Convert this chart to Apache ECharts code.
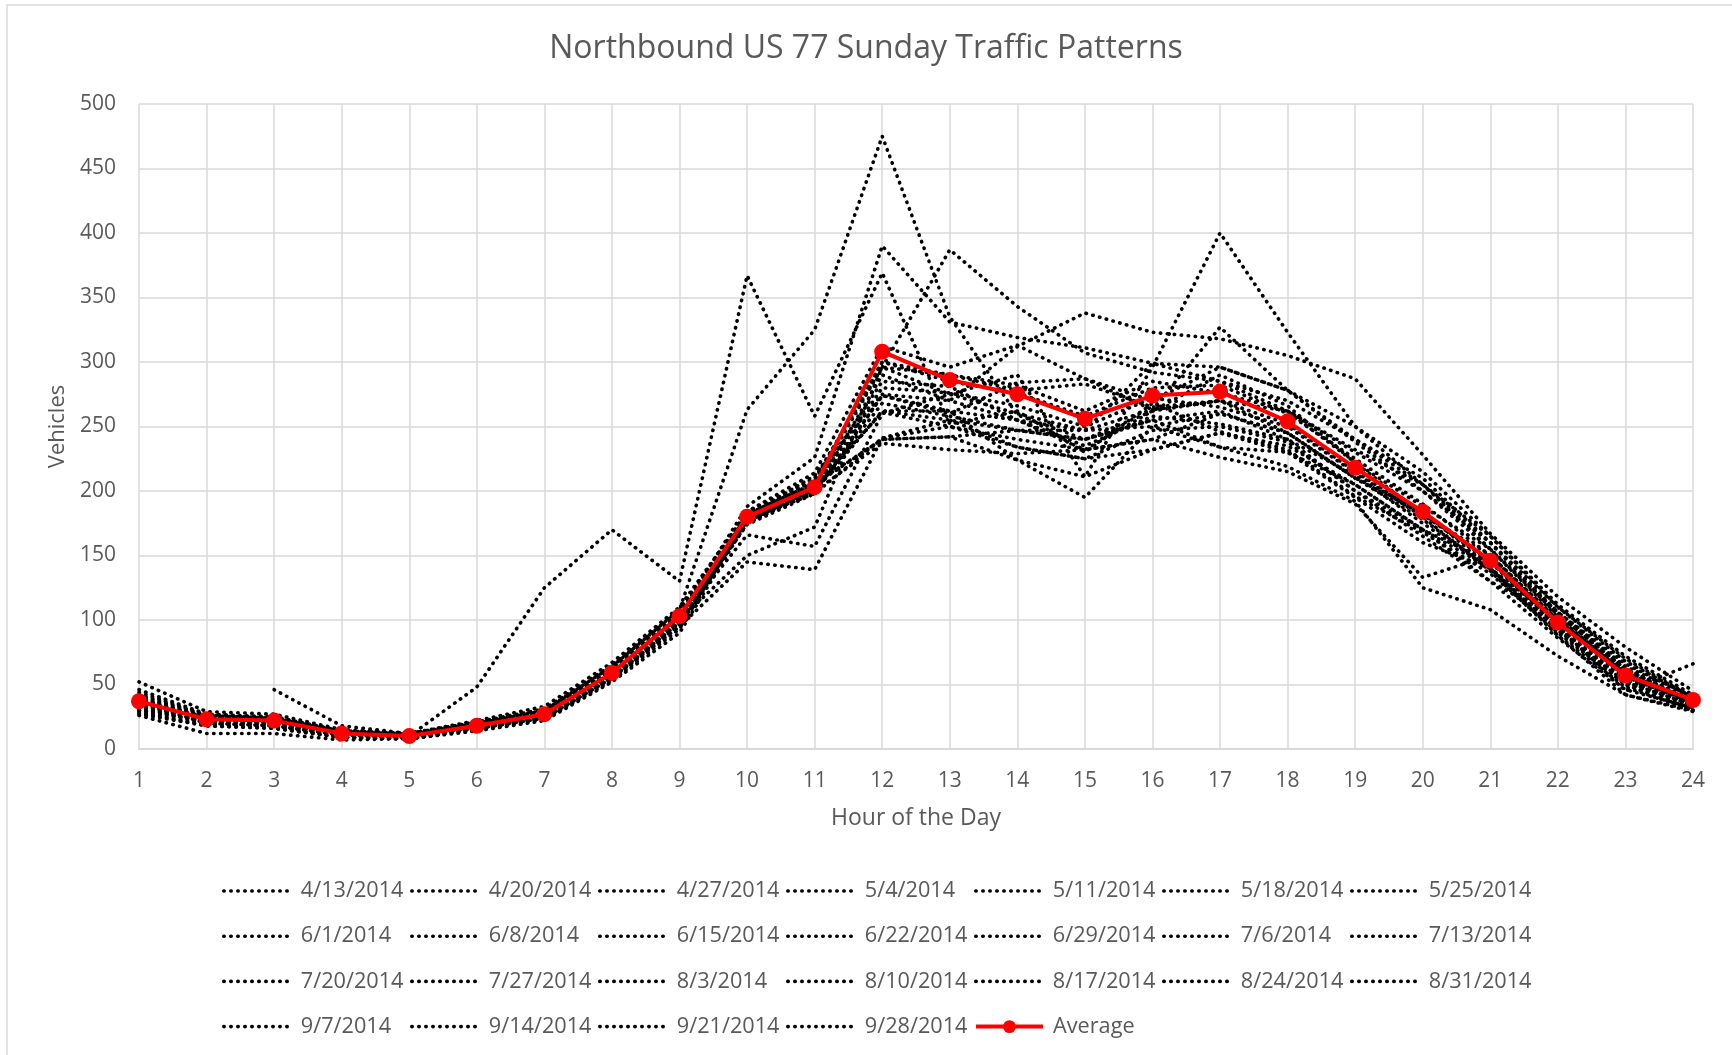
<!DOCTYPE html>
<html>
<head>
<meta charset="utf-8">
<title>Northbound US 77 Sunday Traffic Patterns</title>
<script src="https://cdn.jsdelivr.net/npm/echarts@6/dist/echarts.min.js"></script>
<style>
  html, body { margin: 0; padding: 0; background: #fff; }
  #chart { width: 1732px; height: 1055px; }
</style>
</head>
<body>
<div id="chart"></div>
<script>
// Hour of the day (x axis categories)
const hours = ['1','2','3','4','5','6','7','8','9','10','11','12','13','14','15','16','17','18','19','20','21','22','23','24'];

// Y axis: vehicles per hour
const yMin = 0, yMax = 500, yStep = 50;

// Hourly northbound counts for each Sunday
const d0413 = [null,null,46,18,12,16,24,55,98,175,200,262,255,247,240,255,262,240,200,170,140,92,52,34];
const d0420 = [34,22,20,12,10,48,125,170,130,367,258,369,252,262,230,268,246,232,196,168,136,90,50,30];
const d0427 = [30,26,24,14,11,20,30,64,108,263,325,475,335,259,240,262,290,266,222,182,150,100,60,36];
const d0504 = [40,24,22,13,10,19,28,62,104,188,226,390,331,319,311,299,296,278,240,210,160,110,70,40];
const d0511 = [36,20,18,11,9,18,27,58,100,150,172,296,387,343,307,292,285,262,232,205,155,106,66,40];
const d0518 = [38,24,23,12,11,20,29,60,104,180,212,275,270,312,338,323,318,305,287,228,167,118,79,45];
const d0525 = [28,18,16,9,8,17,26,57,102,175,200,262,262,224,195,250,234,219,192,125,108,72,42,30];
const d0601 = [52,29,27,15,12,22,33,67,110,183,208,300,290,278,283,265,270,262,230,200,160,104,62,38];
const d0608 = [35,23,21,12,10,18,27,58,100,166,157,260,275,290,211,296,400,323,250,215,165,110,68,40];
const d0615 = [30,22,20,11,9,17,25,55,95,145,139,241,255,234,225,232,245,235,205,170,130,100,60,35];
const d0622 = [42,26,24,13,11,19,28,61,104,178,205,240,242,247,247,263,327,278,238,200,155,104,62,36];
const d0629 = [26,12,12,7,8,14,22,52,90,176,200,237,232,229,232,240,226,215,190,133,150,98,56,33];
const d0706 = [38,25,22,12,10,19,27,60,102,176,200,274,262,255,247,250,260,245,210,182,145,96,55,36];
const d0713 = [33,21,18,10,9,16,24,54,96,178,198,241,250,234,225,247,250,238,200,165,130,86,46,32];
const d0720 = [46,27,25,14,12,21,31,65,108,184,210,296,275,260,247,299,285,270,240,205,160,106,64,40];
const d0727 = [37,23,21,11,10,18,26,58,100,174,198,274,260,284,287,263,270,245,210,185,140,100,56,36];
const d0803 = [29,19,17,9,8,15,23,53,93,178,205,285,281,255,235,258,252,240,212,175,140,88,48,30];
const d0810 = [41,25,23,13,11,19,28,62,105,180,208,300,285,276,258,280,282,260,225,190,150,100,58,38];
const d0817 = [36,23,21,12,10,18,27,59,101,175,200,290,270,255,232,262,270,252,215,182,146,95,45,66];
const d0824 = [32,20,18,10,9,16,24,56,98,182,206,240,242,224,211,232,245,230,195,160,140,92,50,30];
const d0831 = [44,26,24,14,12,20,30,63,106,184,214,312,296,313,287,270,296,278,250,205,165,112,72,42];
const d0907 = [30,21,19,10,9,17,25,56,98,180,200,268,258,247,240,255,234,230,205,170,145,95,52,32];
const d0914 = [39,24,22,12,10,19,28,61,103,178,205,296,290,282,262,285,276,262,222,188,155,102,58,36];
const d0921 = [34,22,20,11,10,18,26,57,99,181,204,261,250,240,232,240,260,245,210,178,140,94,54,34];
const d0928 = [27,18,16,9,8,16,24,55,96,176,202,280,276,266,250,272,265,250,214,180,138,88,42,29];

// Average across the Sundays
const average = [37,23,22,12,10,18,27,59,103,180,203,308,286,275,256,274,277,254,218,184,146,98,57,38];

const sundayNames = ['4/13/2014','4/20/2014','4/27/2014','5/4/2014','5/11/2014','5/18/2014','5/25/2014',
  '6/1/2014','6/8/2014','6/15/2014','6/22/2014','6/29/2014','7/6/2014','7/13/2014',
  '7/20/2014','7/27/2014','8/3/2014','8/10/2014','8/17/2014','8/24/2014','8/31/2014',
  '9/7/2014','9/14/2014','9/21/2014','9/28/2014'];
const sundayData = [d0413,d0420,d0427,d0504,d0511,d0518,d0525,d0601,d0608,d0615,d0622,d0629,d0706,d0713,
  d0720,d0727,d0803,d0810,d0817,d0824,d0831,d0907,d0914,d0921,d0928];
const averageName = 'Average';

const FONT = '"Open Sans", "DejaVu Sans", sans-serif';
const GREY_TEXT = '#595959';
const GRID_LINE = '#D9D9D9';
const RED = '#FF0000';

const dotted = { color: '#000', width: 3.6, type: [0.4, 6.6], cap: 'round' };

const series = sundayNames.map((name, i) => ({
  name: name,
  type: 'line',
  data: sundayData[i],
  symbol: 'none',
  showSymbol: false,
  connectNulls: false,
  lineStyle: dotted,
  itemStyle: { color: '#000' },
  emphasis: { disabled: true },
  animation: false,
  z: 2
}));
series.push({
  name: averageName,
  type: 'line',
  data: average,
  symbol: 'circle',
  symbolSize: 16,
  lineStyle: { color: RED, width: 4 },
  itemStyle: { color: RED },
  emphasis: { disabled: true },
  animation: false,
  z: 5
});

// Legend laid out as a 7-column table below the plot
const allNames = sundayNames.concat([averageName]);
const legendCols = 7, legendLeft = 222, legendColW = 188, legendTop0 = 880, legendRowH = 45.2;
const legends = allNames.map((name, i) => {
  const isAvg = name === averageName;
  return {
    data: [name],
    left: legendLeft + (i % legendCols) * legendColW,
    top: legendTop0 + Math.floor(i / legendCols) * legendRowH,
    itemWidth: 67,
    itemHeight: isAvg ? 16 : 14,
    padding: 0,
    selectedMode: false,
    itemStyle: isAvg ? { color: RED } : { opacity: 0 },
    lineStyle: isAvg ? { color: RED, width: 4 } : { color: '#000', width: 3.6, type: [0.4, 6.6], cap: 'round' },
    textStyle: { fontFamily: FONT, fontSize: 21.7, color: GREY_TEXT, padding: [0, 0, 0, 5] }
  };
});

const chart = echarts.init(document.getElementById('chart'), null, { renderer: 'canvas' });
chart.setOption({
  backgroundColor: '#fff',
  animation: false,
  title: {
    text: 'Northbound US 77 Sunday Traffic Patterns',
    left: 'center',
    top: 28,
    textStyle: { fontFamily: FONT, fontSize: 32, fontWeight: 'normal', color: GREY_TEXT }
  },
  graphic: [{
    type: 'rect',
    shape: { x: 7, y: 5, width: 1740, height: 1060 },
    style: { fill: null, stroke: GRID_LINE, lineWidth: 1.5 },
    silent: true
  }],
  legend: legends,
  grid: { left: 139, right: 39, top: 104, bottom: 306, containLabel: false },
  xAxis: {
    type: 'category',
    data: hours,
    boundaryGap: false,
    name: 'Hour of the Day',
    nameLocation: 'middle',
    nameGap: 58,
    nameTextStyle: { fontFamily: FONT, fontSize: 23, color: GREY_TEXT },
    axisLine: { lineStyle: { color: GRID_LINE, width: 2 } },
    axisTick: { show: false },
    axisLabel: { fontFamily: FONT, fontSize: 21, color: GREY_TEXT, margin: 22 },
    splitLine: { show: true, lineStyle: { color: GRID_LINE, width: 1.5 } }
  },
  yAxis: {
    type: 'value',
    min: yMin,
    max: yMax,
    interval: yStep,
    name: 'Vehicles',
    nameLocation: 'middle',
    nameGap: 70,
    nameTextStyle: { fontFamily: FONT, fontSize: 22, color: GREY_TEXT },
    axisLine: { show: false },
    axisTick: { show: false },
    axisLabel: { fontFamily: FONT, fontSize: 21, color: GREY_TEXT, margin: 23 },
    splitLine: { show: true, lineStyle: { color: GRID_LINE, width: 1.5 } }
  },
  series: series
});
</script>
</body>
</html>
